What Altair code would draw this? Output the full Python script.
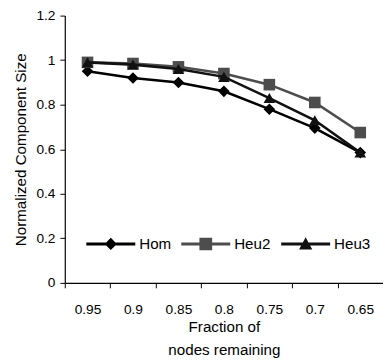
import altair as alt
import pandas as pd

fractions = ["0.95", "0.9", "0.85", "0.8", "0.75", "0.7", "0.65"]
series_names = ["Hom", "Heu2", "Heu3"]
hom = [0.95, 0.92, 0.90, 0.86, 0.78, 0.695, 0.585]
heu2 = [0.99, 0.985, 0.97, 0.94, 0.89, 0.81, 0.675]
heu3 = [0.99, 0.98, 0.96, 0.925, 0.83, 0.73, 0.585]
colors = ["#000000", "#4d4d4d", "#111111"]
shapes = ["diamond", "square", "triangle-up"]
legend_paths = [
    "M-1,-0.06H1V0.06H-1Z M0,-0.25L0.25,0L0,0.25L-0.25,0Z",
    "M-1,-0.06H1V0.06H-1Z M-0.26,-0.26H0.26V0.26H-0.26Z",
    "M-1,-0.06H1V0.06H-1Z M0,-0.28L0.27,0.22H-0.27Z",
]

rows = []
for name, vals in zip(series_names, [hom, heu2, heu3]):
    for f, v in zip(fractions, vals):
        rows.append({"frac": f, "value": v, "series": name, "series_l": name})
df = pd.DataFrame(rows)

FONT = "Liberation Sans"

x = alt.X("frac:N", sort=fractions, title=["Fraction of", "nodes remaining"],
          axis=alt.Axis(labelAngle=0, tickBand="extent", labelFontSize=14,
                        titleFontSize=15.5, titleFontWeight="normal",
                        labelPadding=15, titlePadding=4, tickSize=5, titleLineHeight=23))
y = alt.Y("value:Q", title="Normalized Component Size",
          scale=alt.Scale(domain=[0, 1.2], nice=False),
          axis=alt.Axis(values=[0, 0.2, 0.4, 0.6, 0.8, 1.0, 1.2], format="~g",
                        grid=False, labelFontSize=14, titleFontSize=15.5,
                        titleFontWeight="normal", tickSize=5, labelPadding=5,
                        titlePadding=8))

col = alt.Color("series:N", scale=alt.Scale(domain=series_names, range=colors), legend=None)
shp = alt.Shape("series:N", scale=alt.Scale(domain=series_names, range=shapes), legend=None)

leg = alt.Legend(title=None, orient="none", legendX=22, legendY=208, direction="horizontal",
                 symbolSize=2500, labelFontSize=15.5, labelOffset=4, columnPadding=10,
                 padding=0, symbolStrokeWidth=0, symbolOpacity=1, labelColor="black")
ghost = alt.Chart(df).transform_filter("false").mark_point(filled=True, opacity=1).encode(
    x=x, y=y,
    color=alt.Color("series_l:N", scale=alt.Scale(domain=series_names, range=colors), legend=leg),
    shape=alt.Shape("series_l:N", scale=alt.Scale(domain=series_names, range=legend_paths), legend=leg),
)

layers = []
for i, name in enumerate(series_names):
    sub = df[df.series == name]
    layers.append(alt.Chart(sub).mark_line(strokeWidth=2.6).encode(x=x, y=y, color=col))
    layers.append(alt.Chart(sub).mark_point(filled=True, size=140, opacity=1).encode(
        x=x, y=y, color=col, shape=shp))

chart = alt.layer(*layers, ghost).resolve_scale(color="independent", shape="independent").properties(
    width=325, height=273,
    autosize=alt.AutoSizeParams(type="none"),
    padding={"left": 58, "top": 4, "right": 0, "bottom": 77},
).configure_view(stroke=None).configure_axis(
    domainColor="black", tickColor="black", labelColor="black", titleColor="black",
    labelFont=FONT, titleFont=FONT, domainWidth=1.2,
).configure_legend(labelFont=FONT)

chart.save("out.html", embed_options={"renderer": "svg", "actions": False})
